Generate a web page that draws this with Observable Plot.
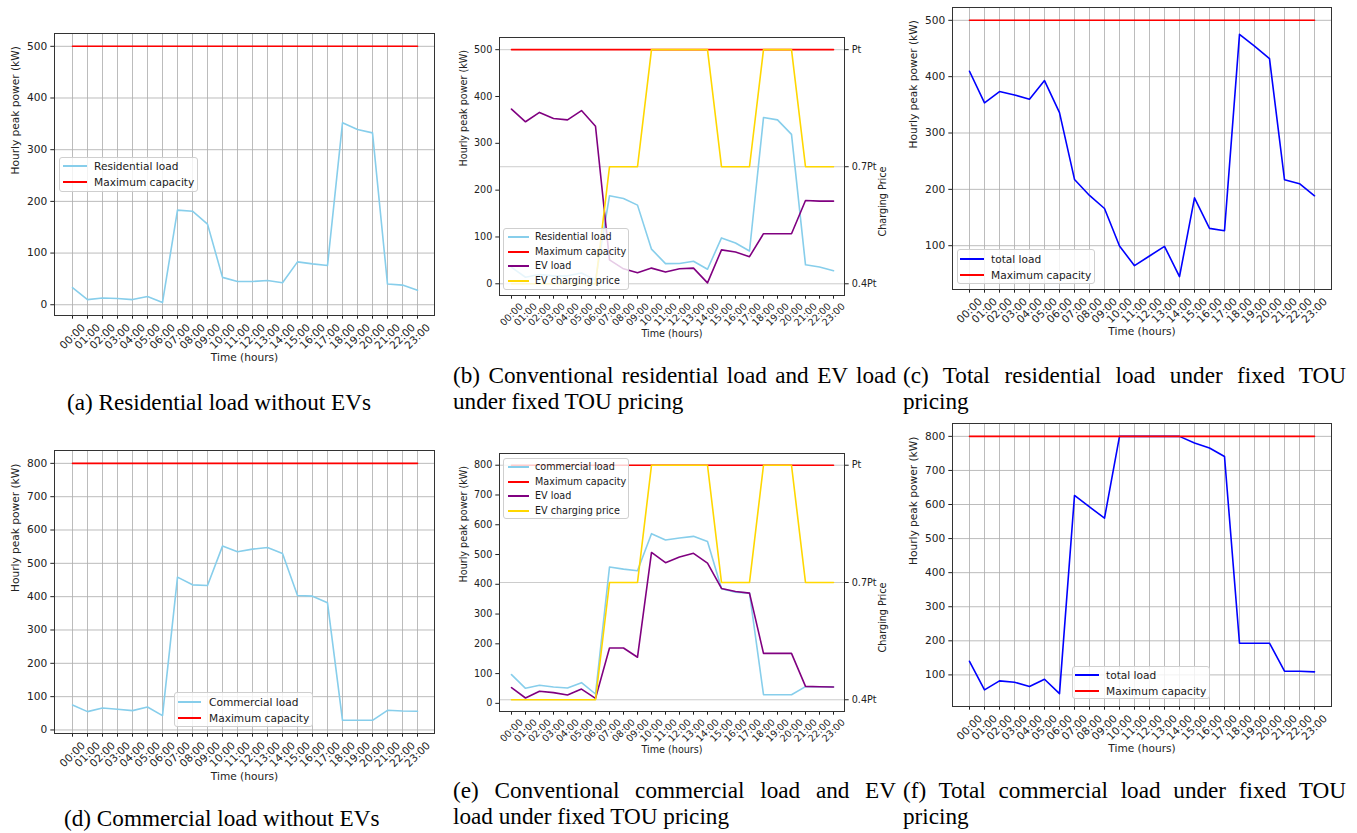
<!DOCTYPE html>
<html>
<head>
<meta charset="utf-8">
<script src="https://cdn.jsdelivr.net/npm/d3@7"></script>
<script src="https://cdn.jsdelivr.net/npm/@observablehq/plot@0.6"></script>
<style>
  html, body { margin: 0; padding: 0; background: #fff; }
  #page { position: relative; width: 1357px; height: 833px; overflow: hidden; background: #fff; }
  .panel { position: absolute; }
  .legend { position: absolute; box-sizing: border-box; border: 1px solid #cfcfcf; border-radius: 3px;
            background: rgba(255,255,255,0.8); font-family: "DejaVu Sans", sans-serif; color: #1a1a1a; }
  .legend .row { position: absolute; left: 0; right: 0; white-space: nowrap; }
  .legend .sw { position: absolute; height: 2px; }
  .legend .lab { position: absolute; }
  .cap { position: absolute; font-family: "Liberation Serif", "Times New Roman", serif; font-size: 23.2px;
         line-height: 26px; color: #000; white-space: nowrap; }
  .cap.just { text-align: justify; text-align-last: justify; }
</style>
</head>
<body>
<div id="page"></div>
<script>
// ---------------- data ----------------
const hours = ["00:00","01:00","02:00","03:00","04:00","05:00","06:00","07:00","08:00","09:00","10:00","11:00",
               "12:00","13:00","14:00","15:00","16:00","17:00","18:00","19:00","20:00","21:00","22:00","23:00"];

const maxCapacityResidential = 500;
const maxCapacityCommercial = 800;

// (a) residential load without EVs
const residentialLoadA = [33,10,13,12,10,16,4.5,183,181,156,53,45,45,47,42.5,83,79,76,352,339,332.5,40,38,28];
// (b) conventional residential load and EV load
const residentialLoadB = [35,14,20,17,17,23,8,188,182,168,74,43,43.5,48,31,98,87,70,355,350,319,40.5,36,28];
const evLoadResidential = [373,346,366,353,350,370,336.5,51,32,23.5,33.5,25,32,33.5,2,72.5,68,58,107,107,107,178,176.5,176.5];
// EV charging price (fraction of Pt)
const chargingPrice = [0.4,0.4,0.4,0.4,0.4,0.4,0.4,0.7,0.7,0.7,1,1,1,1,1,0.7,0.7,0.7,1,1,1,0.7,0.7,0.7];
const priceTicks = [0.4, 0.7, 1.0];
const priceTickLabels = ["0.4Pt", "0.7Pt", "Pt"];
// (c) total residential load
const totalLoadResidential = [409.6,353.5,373.6,367.6,360,393,336.3,217.6,189.2,166,99.4,64.5,81.7,98.8,45,185,130.7,126.6,475,454,432,217,210,188.6];
// (d) commercial load without EVs
const commercialLoadD = [75,55,66,62,58,69,43,458.6,435.5,433.6,551.7,534.7,542.7,547.7,529.7,403.5,401.5,381.5,29,29,29,59,57,56];
// (e) conventional commercial load and EV load
const commercialLoadE = [96.5,50.5,60.6,55,51.6,69.6,31.4,458,451,445.6,570,549,555.6,561,544,385,373.7,370.4,29,29,29,56,56,55];
const evLoadCommercial = [52.7,18,40.4,36,28,48,16.8,186,186,155,507,472.5,491.6,504,471.4,386,376,370.4,168,168,168,57,56,55];
// (f) total commercial load
const totalLoadCommercial = [140,56,82.4,78.4,65.7,87.3,45,626.5,593,560,800,800,800,800,800,780.4,765.7,741,193,193,193,110.8,110.8,109];

const yTicksRes = [0,100,200,300,400,500];
const yTicksResTotal = [100,200,300,400,500];
const yTicksCom = [0,100,200,300,400,500,600,700,800];
const yTicksComTotal = [100,200,300,400,500,600,700,800];

// ---------------- styles ----------------
const C = {sky: "#87ceeb", red: "#ff0000", purple: "#800080", gold: "#ffd700", blue: "#0000ff"};

const page = document.getElementById("page");

function panel(cfg) {
  const {frame, yDomain, yTicks, grid, series, fs, price} = cfg;
  const ML = 54, MT = 6, MR = price ? 54 : 10, MB = 62;
  const width = (frame.r - frame.l) + ML + MR;
  const height = (frame.b - frame.t) + MT + MB;
  const marks = [];
  if (grid) {
    marks.push(Plot.gridX(hours, {stroke: "#b0b0b0", strokeOpacity: 1, strokeWidth: 0.85}));
    marks.push(Plot.gridY(yTicks, {stroke: "#b0b0b0", strokeOpacity: 1, strokeWidth: 0.85}));
  }
  let pmap = null;
  if (price) {
    const [p0, p1] = price.from, [v0, v1] = price.to;
    pmap = p => v0 + (p - p0) * (v1 - v0) / (p1 - p0);
    marks.push(Plot.gridY(priceTicks.map(pmap), {stroke: "#c6c6c6", strokeOpacity: 1, strokeWidth: 0.9}));
  }
  for (const s of series) {
    const vals = s.price ? s.values.map(pmap) : s.values;
    marks.push(Plot.line(hours, {x: d => d, y: (d, i) => vals[i], stroke: s.color, strokeWidth: 1.6}));
  }
  marks.push(Plot.axisY(yTicks, {tickSize: 3.7, tickPadding: 3.5, label: null, fontSize: fs, stroke: "#222"}));
  marks.push(Plot.axisX(hours, {tickSize: 3.7, tickFormat: () => "", label: null, stroke: "#222"}));
  marks.push(Plot.text(hours, {x: d => d, text: d => d, frameAnchor: "bottom", dy: cfg.tickDy,
    rotate: -45, textAnchor: "middle", lineAnchor: "middle", fontSize: fs, fill: "#222"}));
  marks.push(Plot.text(["Hourly peak power (kW)"], {text: d => d, frameAnchor: "left", dx: cfg.ylabDx,
    rotate: -90, fontSize: fs, fill: "#222"}));
  marks.push(Plot.text(["Time (hours)"], {text: d => d, frameAnchor: "bottom", dy: cfg.xlabDy,
    fontSize: fs, fill: "#222"}));
  if (price) {
    const labelOf = new Map(priceTicks.map((p, i) => [pmap(p), priceTickLabels[i]]));
    marks.push(Plot.axisY(priceTicks.map(pmap), {anchor: "right", tickSize: 3.7, tickPadding: 3.5,
      tickFormat: d => labelOf.get(d), label: null, fontSize: fs, stroke: "#222"}));
    marks.push(Plot.text(["Charging Price"], {text: d => d, frameAnchor: "right", dx: 38.7,
      rotate: -90, fontSize: fs, fill: "#222"}));
  }
  marks.push(Plot.frame({stroke: "#333", strokeWidth: 1}));

  const svg = Plot.plot({
    width, height, marginLeft: ML, marginRight: MR, marginTop: MT, marginBottom: MB,
    x: {type: "point", domain: hours, padding: 0.5},
    y: {domain: yDomain},
    style: {fontFamily: "DejaVu Sans", fontSize: fs + "px", background: "transparent", color: "#222"},
    marks
  });
  const wrap = document.createElement("div");
  wrap.className = "panel";
  wrap.style.left = (frame.l - ML) + "px";
  wrap.style.top = (frame.t - MT) + "px";
  wrap.appendChild(svg);
  page.appendChild(wrap);

  // legend
  const L = cfg.legend;
  const box = document.createElement("div");
  box.className = "legend";
  Object.assign(box.style, {left: L.x + "px", top: L.y + "px", width: L.w + "px", height: L.h + "px", fontSize: fs + "px"});
  series.forEach((s, i) => {
    const row = document.createElement("div");
    row.className = "row";
    Object.assign(row.style, {top: (L.pad + i * L.rowH - 1) + "px", height: L.rowH + "px", lineHeight: L.rowH + "px"});
    const sw = document.createElement("div");
    sw.className = "sw";
    Object.assign(sw.style, {left: L.swX + "px", width: L.swW + "px", top: Math.round(L.rowH / 2 - 1) + "px",
      background: s.color});
    const lab = document.createElement("div");
    lab.className = "lab";
    lab.style.left = L.txtX + "px";
    lab.textContent = s.name;
    row.appendChild(sw); row.appendChild(lab);
    box.appendChild(row);
  });
  page.appendChild(box);
}

const FS = 10.6, FSS = 9.65;

// (a)
panel({
  frame: {l: 54, r: 434, t: 33, b: 315}, yDomain: [-20.8, 524.8], yTicks: yTicksRes, grid: true, fs: FS,
  tickDy: 21, ylabDx: -38.5, xlabDy: 45,
  series: [
    {name: "Residential load", values: residentialLoadA, color: C.sky},
    {name: "Maximum capacity", values: hours.map(() => maxCapacityResidential), color: C.red}
  ],
  legend: {x: 59, y: 157, w: 139, h: 35, pad: 1, rowH: 16, swX: 3, swW: 24, txtX: 34}
});
// (b)
panel({
  frame: {l: 499, r: 844, t: 37, b: 295}, yDomain: [-25, 526], yTicks: yTicksRes, grid: false, fs: FSS,
  tickDy: 19, ylabDx: -35.7, xlabDy: 41, price: {from: [0.4, 1.0], to: [0, 500]},
  series: [
    {name: "Residential load", values: residentialLoadB, color: C.sky},
    {name: "Maximum capacity", values: hours.map(() => maxCapacityResidential), color: C.red},
    {name: "EV load", values: evLoadResidential, color: C.purple},
    {name: "EV charging price", values: chargingPrice, color: C.gold, price: true}
  ],
  legend: {x: 503, y: 228, w: 126, h: 62, pad: 2, rowH: 14.7, swX: 4, swW: 21, txtX: 31}
});
// (c)
panel({
  frame: {l: 952, r: 1331, t: 7, b: 289}, yDomain: [22.25, 522.75], yTicks: yTicksResTotal, grid: true, fs: FS,
  tickDy: 21, ylabDx: -39.3, xlabDy: 45,
  series: [
    {name: "total load", values: totalLoadResidential, color: C.blue},
    {name: "Maximum capacity", values: hours.map(() => maxCapacityResidential), color: C.red}
  ],
  legend: {x: 957, y: 249, w: 138, h: 35, pad: 1.5, rowH: 16, swX: 2, swW: 24, txtX: 33}
});
// (d)
panel({
  frame: {l: 54, r: 434, t: 450, b: 733}, yDomain: [-10.6, 838.6], yTicks: yTicksCom, grid: true, fs: FS,
  tickDy: 21, ylabDx: -38.5, xlabDy: 46,
  series: [
    {name: "Commercial load", values: commercialLoadD, color: C.sky},
    {name: "Maximum capacity", values: hours.map(() => maxCapacityCommercial), color: C.red}
  ],
  legend: {x: 174, y: 692, w: 139, h: 35, pad: 1.5, rowH: 16, swX: 3, swW: 23, txtX: 34}
});
// (e)
panel({
  frame: {l: 499, r: 844, t: 453, b: 711}, yDomain: [-27.4, 839.4], yTicks: yTicksCom, grid: false, fs: FSS,
  tickDy: 19, ylabDx: -35.7, xlabDy: 41, price: {from: [0.4, 1.0], to: [12, 800]},
  series: [
    {name: "commercial load", values: commercialLoadE, color: C.sky},
    {name: "Maximum capacity", values: hours.map(() => maxCapacityCommercial), color: C.red},
    {name: "EV load", values: evLoadCommercial, color: C.purple},
    {name: "EV charging price", values: chargingPrice, color: C.gold, price: true}
  ],
  legend: {x: 503, y: 458, w: 126, h: 61, pad: 2, rowH: 14.7, swX: 4, swW: 21, txtX: 31}
});
// (f)
panel({
  frame: {l: 952, r: 1331, t: 423, b: 706}, yDomain: [7.25, 837.75], yTicks: yTicksComTotal, grid: true, fs: FS,
  tickDy: 21, ylabDx: -39.3, xlabDy: 45,
  series: [
    {name: "total load", values: totalLoadCommercial, color: C.blue},
    {name: "Maximum capacity", values: hours.map(() => maxCapacityCommercial), color: C.red}
  ],
  legend: {x: 1072, y: 666, w: 138, h: 33, pad: 0.5, rowH: 16, swX: 2, swW: 24, txtX: 33}
});

// ---------------- captions ----------------
function cap(text, x, y, w, just) {
  const d = document.createElement("div");
  d.className = "cap" + (just ? " just" : "");
  d.style.left = x + "px"; d.style.top = y + "px";
  if (w) d.style.width = w + "px";
  d.textContent = text;
  page.appendChild(d);
}
cap("(a) Residential load without EVs", 67, 388.5);
cap("(b) Conventional residential load and EV load", 453, 361.5, 443, true);
cap("under fixed TOU pricing", 453, 387.5);
cap("(c) Total residential load under fixed TOU", 903, 361.5, 443, true);
cap("pricing", 903, 387.5);
cap("(d) Commercial load without EVs", 64, 804.5);
cap("(e) Conventional commercial load and EV", 453, 776.5, 443, true);
cap("load under fixed TOU pricing", 453, 802.5);
cap("(f) Total commercial load under fixed TOU", 903, 776.5, 443, true);
cap("pricing", 903, 802.5);
</script>
</body>
</html>
